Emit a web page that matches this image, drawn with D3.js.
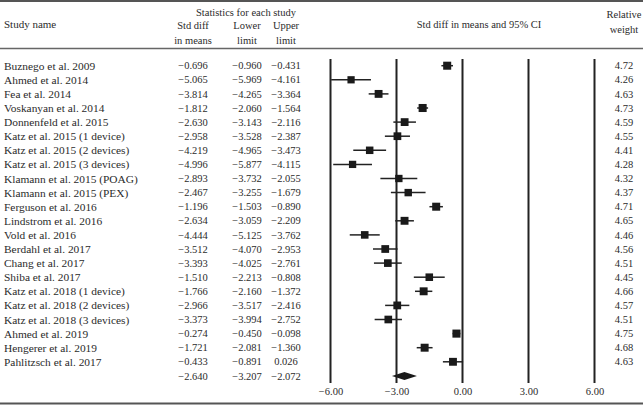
<!DOCTYPE html>
<html>
<head>
<meta charset="utf-8">
<script src="https://cdn.jsdelivr.net/npm/d3@7"></script>
<style>
  html, body { margin: 0; padding: 0; background: #fff; }
  svg { display: block; }
  text { font-family: "Liberation Serif", "DejaVu Serif", serif; fill: #2b2b2b; }
</style>
</head>
<body>
<svg id="chart" width="643" height="405"></svg>
<script>
const studies = [
  "Buznego et al. 2009", "Ahmed et al. 2014", "Fea et al. 2014", "Voskanyan et al. 2014",
  "Donnenfeld et al. 2015", "Katz et al. 2015 (1 device)", "Katz et al. 2015 (2 devices)",
  "Katz et al. 2015 (3 devices)", "Klamann et al. 2015 (POAG)", "Klamann et al. 2015 (PEX)",
  "Ferguson et al. 2016", "Lindstrom et al. 2016", "Vold et al. 2016", "Berdahl et al. 2017",
  "Chang et al. 2017", "Shiba et al. 2017", "Katz et al. 2018 (1 device)",
  "Katz et al. 2018 (2 devices)", "Katz et al. 2018 (3 devices)", "Ahmed et al. 2019",
  "Hengerer et al. 2019", "Pahlitzsch et al. 2017"
];
const stdDiff = [-0.696, -5.065, -3.814, -1.812, -2.630, -2.958, -4.219, -4.996, -2.893, -2.467,
  -1.196, -2.634, -4.444, -3.512, -3.393, -1.510, -1.766, -2.966, -3.373, -0.274, -1.721, -0.433];
const lowerLimit = [-0.960, -5.969, -4.265, -2.060, -3.143, -3.528, -4.965, -5.877, -3.732, -3.255,
  -1.503, -3.059, -5.125, -4.070, -4.025, -2.213, -2.160, -3.517, -3.994, -0.450, -2.081, -0.891];
const upperLimit = [-0.431, -4.161, -3.364, -1.564, -2.116, -2.387, -3.473, -4.115, -2.055, -1.679,
  -0.890, -2.209, -3.762, -2.953, -2.761, -0.808, -1.372, -2.416, -2.752, -0.098, -1.360, 0.026];
const relWeight = [4.72, 4.26, 4.63, 4.73, 4.59, 4.55, 4.41, 4.28, 4.32, 4.37, 4.71, 4.65, 4.46,
  4.56, 4.51, 4.45, 4.66, 4.57, 4.51, 4.75, 4.68, 4.63];
const summary = { est: -2.640, lower: -3.207, upper: -2.072 };
const xTicks = [-6, -3, 0, 3, 6];

const svg = d3.select("#chart");
const fmt = d3.format(".3f");
const tickFmt = d3.format(".2f");

const x = d3.scaleLinear().domain([-6, 6]).range([330.5, 594.5]);
const rowIdx = d3.range(studies.length + 1);
const y = d3.scalePoint().domain(rowIdx).range([65.7, 375.9]);

const FS = 10.5;
const FSN = 11.4;
const colStd = 193, colLow = 247, colUp = 286, colW = 624;

// borders
svg.append("line").attr("x1", 0).attr("x2", 643).attr("y1", 1).attr("y2", 1)
  .attr("stroke", "#555").attr("stroke-width", 2);
svg.append("line").attr("x1", 0).attr("x2", 643).attr("y1", 48.5).attr("y2", 48.5)
  .attr("stroke", "#666").attr("stroke-width", 1.3);
svg.append("line").attr("x1", 0).attr("x2", 643).attr("y1", 403.5).attr("y2", 403.5)
  .attr("stroke", "#555").attr("stroke-width", 2);

// headers
const hdr = (t, xx, yy, anchor, fs) => svg.append("text").attr("x", xx).attr("y", yy)
  .attr("text-anchor", anchor || "middle").attr("font-size", fs || FS).text(t);
hdr("Study name", 4, 28, "start", 11);
hdr("Statistics for each study", 246, 16);
hdr("Std diff", colStd, 29); hdr("in means", colStd, 44);
hdr("Lower", colLow, 29); hdr("limit", colLow, 44);
hdr("Upper", colUp, 29); hdr("limit", colUp, 44);
hdr("Std diff in means and 95% CI", 479, 28);
hdr("Relative", colW, 18); hdr("weight", colW, 33);

// vertical reference lines
svg.append("g").selectAll("line").data(xTicks).join("line")
  .attr("x1", d => x(d)).attr("x2", d => x(d)).attr("y1", 59).attr("y2", 383)
  .attr("stroke", "#222").attr("stroke-width", 2);

// axis labels
const axis = d3.axisBottom(x).tickValues(xTicks).tickFormat(tickFmt).tickSize(0).tickPadding(0);
const ax = svg.append("g").attr("transform", "translate(0,388)").call(axis);
ax.select(".domain").remove();
ax.selectAll("text").attr("font-size", FS).attr("dy", "0.71em")
  .style("font-family", '"Liberation Serif", "DejaVu Serif", serif').attr("fill", "#2b2b2b");

// rows
const rows = svg.append("g").selectAll("g").data(studies).join("g")
  .attr("transform", (d, i) => `translate(0,${y(i)})`);
rows.append("text").attr("x", 4).attr("dy", "0.35em").attr("font-size", FSN).text(d => d);
rows.append("text").attr("x", colStd).attr("dy", "0.35em").attr("text-anchor", "middle")
  .attr("font-size", FS).text((d, i) => fmt(stdDiff[i]));
rows.append("text").attr("x", colLow).attr("dy", "0.35em").attr("text-anchor", "middle")
  .attr("font-size", FS).text((d, i) => fmt(lowerLimit[i]));
rows.append("text").attr("x", colUp).attr("dy", "0.35em").attr("text-anchor", "middle")
  .attr("font-size", FS).text((d, i) => fmt(upperLimit[i]));
rows.append("text").attr("x", colW).attr("dy", "0.35em").attr("text-anchor", "middle")
  .attr("font-size", FS).text((d, i) => relWeight[i].toFixed(2));

// CI whiskers
rows.append("line")
  .attr("x1", (d, i) => x(lowerLimit[i])).attr("x2", (d, i) => x(upperLimit[i]))
  .attr("stroke", "#222").attr("stroke-width", 1.5);
// squares
rows.append("rect")
  .attr("x", (d, i) => x(stdDiff[i]) - relWeight[i] * 0.85)
  .attr("y", (d, i) => -relWeight[i] * 0.85)
  .attr("width", (d, i) => relWeight[i] * 1.7)
  .attr("height", (d, i) => relWeight[i] * 1.7)
  .attr("fill", "#1a1a1a");

// summary row
const sy = y(studies.length);
const sg = svg.append("g").attr("transform", `translate(0,${sy})`);
sg.append("text").attr("x", colStd).attr("dy", "0.35em").attr("text-anchor", "middle")
  .attr("font-size", FS).text(fmt(summary.est));
sg.append("text").attr("x", colLow).attr("dy", "0.35em").attr("text-anchor", "middle")
  .attr("font-size", FS).text(fmt(summary.lower));
sg.append("text").attr("x", colUp).attr("dy", "0.35em").attr("text-anchor", "middle")
  .attr("font-size", FS).text(fmt(summary.upper));
sg.append("path")
  .attr("d", `M${x(summary.lower)},0 L${x(summary.est)},-4 L${x(summary.upper)},0 L${x(summary.est)},4 Z`)
  .attr("fill", "#1a1a1a");
</script>
</body>
</html>
